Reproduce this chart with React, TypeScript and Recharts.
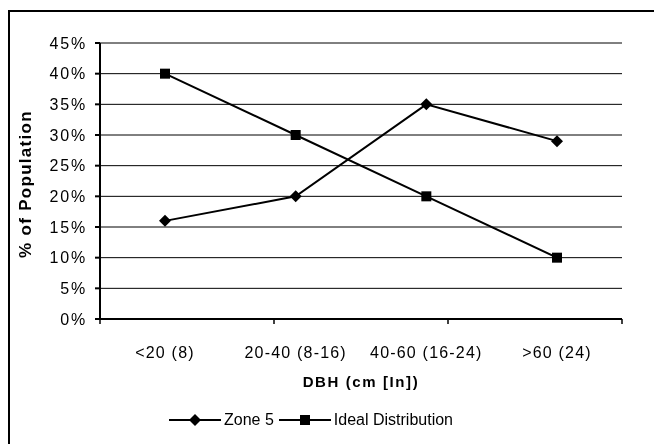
import { LineChart, Line, XAxis, YAxis, CartesianGrid, Legend } from 'recharts';

// DBH classes and % of population per class
const categories = ['<20 (8)', '20-40 (8-16)', '40-60 (16-24)', '>60 (24)'];
const zone5 = [16, 20, 35, 29];
const idealDistribution = [40, 30, 20, 10];
const yTicks = [0, 5, 10, 15, 20, 25, 30, 35, 40, 45];
// category boundaries for the tick marks on the x axis
const xBounds = [0, 1, 2, 3, 4];

const data = categories.map((name, i) => ({
    name,
    zone5: zone5[i],
    ideal: idealDistribution[i],
}));

const FONT = '"Liberation Sans", Arial, sans-serif';

const Diamond = (props: any) => {
    const { cx, cy } = props;
    if (cx == null || cy == null) return null;
    return <path d={`M${cx},${cy - 6} L${cx + 6},${cy} L${cx},${cy + 6} L${cx - 6},${cy} Z`} fill="#000" />;
};

const Square = (props: any) => {
    const { cx, cy } = props;
    if (cx == null || cy == null) return null;
    return <rect x={cx - 5} y={cy - 5} width={10} height={10} fill="#000" />;
};

const LegendIcon = ({ kind }: { kind: 'diamond' | 'square' }) => (
    <svg width={52} height={14} style={{ verticalAlign: 'middle' }}>
        <line x1={0} y1={7} x2={52} y2={7} stroke="#000" strokeWidth={2} />
        {kind === 'diamond'
            ? <path d="M26,1 L32,7 L26,13 L20,7 Z" fill="#000" />
            : <rect x={21} y={2} width={10} height={10} fill="#000" />}
    </svg>
);

const renderLegend = () => (
    <div style={{ height: 20, display: 'flex', justifyContent: 'center', alignItems: 'center', fontFamily: FONT, fontSize: 16, color: '#000' }}>
        <LegendIcon kind="diamond" />
        <span style={{ marginLeft: 3, marginRight: 5 }}>Zone 5</span>
        <LegendIcon kind="square" />
        <span style={{ marginLeft: 3 }}>Ideal Distribution</span>
    </div>
);

// tick mark only, label left empty
const EmptyTick = () => <text />;

export default function App() {
    return (
        <div>
            {/* outer chart border */}
            <div style={{ position: 'fixed', left: 8, top: 10, width: 700, height: 500, borderTop: '2px solid #000', borderLeft: '2px solid #000' }} />
            <div style={{ position: 'fixed', left: 0, top: 0 }}>
                <LineChart width={654} height={444} data={data} margin={{ top: 43, right: 32, left: 0, bottom: 14 }}>
                    <CartesianGrid xAxisId="b" yAxisId="left" vertical={false} stroke="#000" strokeWidth={1} />
                    <XAxis
                        xAxisId="b"
                        dataKey="name"
                        height={90}
                        padding={{ left: 65, right: 65 }}
                        axisLine={false}
                        tickLine={false}
                        tickMargin={21}
                        interval={0}
                        tick={{ fill: '#000', fontSize: 16, fontFamily: FONT, letterSpacing: 1.2 }}
                        label={(p: any) => {
                            const vb = p.viewBox;
                            return (
                                <text x={vb.x + vb.width / 2} y={vb.y + 67} textAnchor="middle" fontFamily={FONT} fontSize={15} fontWeight="bold" letterSpacing={1.6} fill="#000">
                                    DBH (cm  [In])
                                </text>
                            );
                        }}
                    />
                    {/* tick marks at category edges */}
                    <XAxis
                        xAxisId="a"
                        type="number"
                        domain={[0, 4]}
                        allowDataOverflow
                        ticks={xBounds}
                        interval={0}
                        height={1}
                        tick={<EmptyTick />}
                        tickLine={{ stroke: '#000', strokeWidth: 1.5 }}
                        tickSize={5}
                        stroke="#000"
                        strokeWidth={2}
                    />
                    <YAxis
                        yAxisId="left"
                        width={100}
                        domain={[0, 45]}
                        ticks={yTicks}
                        interval={0}
                        tickFormatter={(v) => `${v}%`}
                        stroke="#000"
                        strokeWidth={2}
                        tickSize={5}
                        tickMargin={8}
                        tick={{ fill: '#000', fontSize: 16, fontFamily: FONT, letterSpacing: 1.8 }}
                        label={(p: any) => {
                            const vb = p.viewBox;
                            const cx = 25;
                            const cy = vb.y + vb.height / 2 + 3;
                            return (
                                <text x={cx} y={cy} transform={`rotate(-90, ${cx}, ${cy})`} textAnchor="middle" dominantBaseline="central" fontFamily={FONT} fontSize={17} fontWeight="bold" letterSpacing={1.3} fill="#000">
                                    % of Population
                                </text>
                            );
                        }}
                    />
                    <YAxis yAxisId="right" orientation="right" width={0} domain={[0, 45]} tick={false} tickLine={false} stroke="#444" strokeDasharray="2 1" />
                    <Legend verticalAlign="bottom" content={renderLegend} />
                    <Line xAxisId="b" yAxisId="left" type="linear" dataKey="zone5" name="Zone 5" stroke="#000" strokeWidth={2} dot={<Diamond />} activeDot={false} isAnimationActive={false} />
                    <Line xAxisId="b" yAxisId="left" type="linear" dataKey="ideal" name="Ideal Distribution" stroke="#000" strokeWidth={2} dot={<Square />} activeDot={false} isAnimationActive={false} />
                </LineChart>
            </div>
        </div>
    );
}
